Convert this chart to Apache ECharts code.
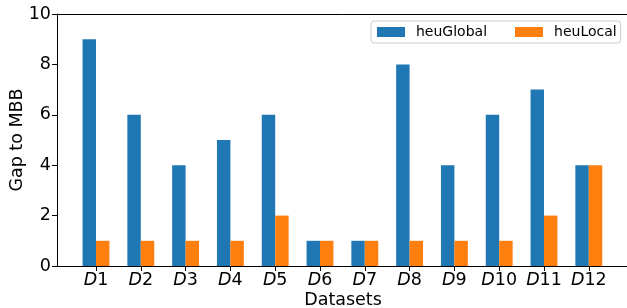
<!DOCTYPE html>
<html>
<head>
<meta charset="utf-8">
<script src="https://cdn.jsdelivr.net/npm/echarts@6/dist/echarts.min.js"></script>
<style>html,body{margin:0;padding:0;background:#fff;}#c{width:627px;height:308px;}</style>
</head>
<body>
<div id="c"></div>
<script>
const categories = ['D1','D2','D3','D4','D5','D6','D7','D8','D9','D10','D11','D12'];
const heuGlobal = [9,6,4,5,6,1,1,8,4,6,7,4];
const heuLocal = [1,1,1,1,2,1,1,1,1,1,2,4];
const yMin = 0, yMax = 10, yStep = 2;

const FONT = 'DejaVu Sans';
const chart = echarts.init(document.getElementById('c'));
chart.setOption({
  animation: false,
  textStyle: {fontFamily: FONT},
  grid: [
    {left: 57, top: 14, right: -2, bottom: 42, containLabel: false, outerBoundsMode: 'none'},
    {left: 73.6, top: 14, width: 537.6, bottom: 42, containLabel: false, outerBoundsMode: 'none'}
  ],
  legend: {
    data: ['heuGlobal', 'heuLocal'],
    left: 371, top: 21,
    orient: 'horizontal',
    icon: 'rect',
    itemWidth: 28, itemHeight: 10,
    itemGap: 28,
    padding: [4, 4, 4, 6],
    borderColor: '#cccccc', borderWidth: 1, borderRadius: 3,
    backgroundColor: 'rgba(255,255,255,0.8)',
    textStyle: {fontFamily: FONT, fontSize: 14, color: '#000', padding: [0, 0, 0, 6]}
  },
  xAxis: [
    {type: 'value', gridIndex: 0, min: 0, max: 1, position: 'bottom',
     axisLine: {show: true, lineStyle: {color: '#000', width: 1}},
     axisTick: {show: false}, axisLabel: {show: false}, splitLine: {show: false},
     name: 'Datasets', nameLocation: 'middle', nameGap: 25, nameMoveOverlap: false,
     nameTextStyle: {fontFamily: FONT, fontSize: 17.5, color: '#000'}},
    {type: 'value', gridIndex: 0, min: 0, max: 1, position: 'top',
     axisLine: {show: true, lineStyle: {color: '#000', width: 1}},
     axisTick: {show: false}, axisLabel: {show: false}, splitLine: {show: false}},
    {type: 'category', gridIndex: 1, data: categories, boundaryGap: true,
     axisLine: {show: false},
     axisTick: {show: true, alignWithLabel: true, length: 5, lineStyle: {color: '#000'}},
     axisLabel: {
       interval: 0, margin: 5, color: '#000',
       formatter: function (v) { return '{i|D}{n|' + v.slice(1) + '}'; },
       rich: {
         i: {fontFamily: FONT, fontStyle: 'italic', fontSize: 17.5, color: '#000'},
         n: {fontFamily: FONT, fontSize: 17.5, color: '#000'}
       }
     },
     splitLine: {show: false}}
  ],
  yAxis: [
    {type: 'value', gridIndex: 0, min: yMin, max: yMax, interval: yStep,
     axisLine: {show: true, lineStyle: {color: '#000', width: 1}},
     axisTick: {show: true, length: 5, lineStyle: {color: '#000'}},
     axisLabel: {fontFamily: FONT, fontSize: 17.5, color: '#000', margin: 6},
     splitLine: {show: false},
     name: 'Gap to MBB', nameLocation: 'middle', nameGap: 31, nameMoveOverlap: false,
     nameTextStyle: {fontFamily: FONT, fontSize: 17.5, color: '#000'}},
    {type: 'value', gridIndex: 1, min: yMin, max: yMax, show: false, splitLine: {show: false}}
  ],
  series: [
    {name: 'heuGlobal', type: 'bar', xAxisIndex: 2, yAxisIndex: 1, data: heuGlobal,
     barWidth: 13.44, barGap: '0%', itemStyle: {color: '#1f77b4'}},
    {name: 'heuLocal', type: 'bar', xAxisIndex: 2, yAxisIndex: 1, data: heuLocal,
     barWidth: 13.44, barGap: '0%', itemStyle: {color: '#ff7f0e'}}
  ]
});
</script>
</body>
</html>
